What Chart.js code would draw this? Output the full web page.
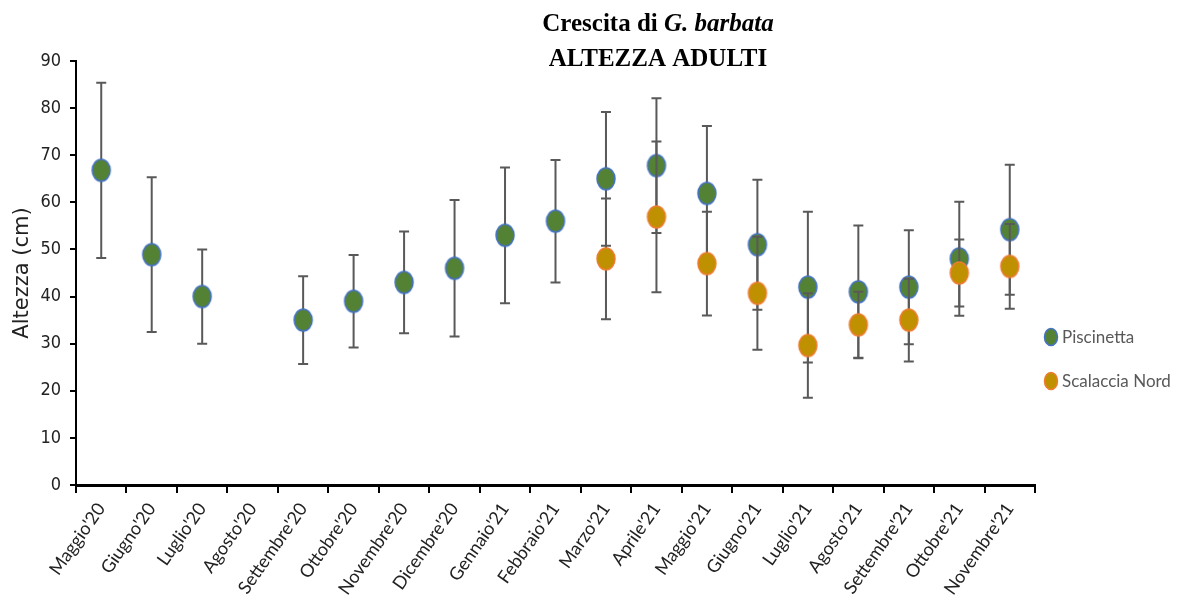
<!DOCTYPE html>
<html>
<head>
<meta charset="utf-8">
<script src="https://cdn.jsdelivr.net/npm/chart.js@4.4.1/dist/chart.umd.min.js"></script>
<style>
  html, body { margin: 0; padding: 0; background: #fff; }
  #wrap { position: relative; width: 1192px; height: 611px; }
</style>
</head>
<body>
<div id="wrap"><canvas id="chart"></canvas></div>
<script>
/* ============================================================
   DATA
============================================================ */
const months = ["Maggio'20", "Giugno'20", "Luglio'20", "Agosto'20", "Settembre'20", "Ottobre'20",
  "Novembre'20", "Dicembre'20", "Gennaio'21", "Febbraio'21", "Marzo'21", "Aprile'21",
  "Maggio'21", "Giugno'21", "Luglio'21", "Agosto'21", "Settembre'21", "Ottobre'21", "Novembre'21"];

const piscinetta    = [66.8, 48.9, 40.0, null, 35.0, 39.0, 43.0, 46.0, 53.0, 56.0, 65.0, 67.8, 61.9, 51.0, 42.0, 41.0, 42.0, 48.0, 54.2];
const piscinettaErr = [18.6, 16.4, 10.0, null, 9.3, 9.8, 10.8, 14.5, 14.4, 13.0, 14.2, 14.3, 14.3, 13.8, 16.0, 14.1, 12.1, 12.1, 13.8];

const scalaccia     = [null, null, null, null, null, null, null, null, null, null, 48.0, 56.9, 47.0, 40.7, 29.6, 34.0, 35.0, 45.0, 46.4];
const scalacciaErr  = [null, null, null, null, null, null, null, null, null, null, 12.8, 16.0, 11.0, 12.0, 11.1, 7.0, 8.8, 7.1, 9.0];

const yTicks = [0, 10, 20, 30, 40, 50, 60, 70, 80, 90];

/* ============================================================
   STYLE
============================================================ */
const GREEN = '#548235', GREEN_EDGE = '#4472C4';
const GOLD  = '#BF9000', GOLD_EDGE  = '#ED7D31';
const ERR   = '#595959';

/* ellipse marker as a little canvas */
function ellipseMarker(fill, edge, rx, ry) {
  const c = document.createElement('canvas');
  c.width = Math.ceil(rx * 2 + 4);
  c.height = Math.ceil(ry * 2 + 4);
  const g = c.getContext('2d');
  g.beginPath();
  g.ellipse(c.width / 2, c.height / 2, rx, ry, 0, 0, Math.PI * 2);
  g.fillStyle = fill;
  g.fill();
  g.lineWidth = 1.5;
  g.strokeStyle = edge;
  g.stroke();
  return c;
}

/* ============================================================
   PLUGINS
============================================================ */
const errorBars = {
  id: 'errorBars',
  beforeDatasetDraw(chart, args) {
    const ds = chart.data.datasets[args.index];
    if (!ds.errors) return;
    const y = chart.scales.y;
    const ctx = chart.ctx;
    ctx.save();
    ctx.strokeStyle = ERR;
    ctx.lineWidth = 2;
    args.meta.data.forEach((pt, i) => {
      const v = ds.data[i], e = ds.errors[i];
      if (v == null || e == null) return;
      const top = y.getPixelForValue(v + e);
      const bot = y.getPixelForValue(v - e);
      ctx.beginPath();
      ctx.moveTo(pt.x, top); ctx.lineTo(pt.x, bot);
      ctx.moveTo(pt.x - 5, top); ctx.lineTo(pt.x + 5, top);
      ctx.moveTo(pt.x - 5, bot); ctx.lineTo(pt.x + 5, bot);
      ctx.stroke();
    });
    ctx.restore();
  }
};

const decorations = {
  id: 'decorations',
  afterDraw(chart) {
    const ctx = chart.ctx;
    ctx.save();

    /* title, mixed bold / bold italic */
    ctx.fillStyle = '#000';
    ctx.textBaseline = 'alphabetic';
    const cx = 658;
    const partA = 'Crescita di ', partB = 'G. barbata';
    const fA = 'bold 25px "Liberation Serif", "Times New Roman", serif';
    const fB = 'italic bold 25px "Liberation Serif", "Times New Roman", serif';
    ctx.font = fA; const wA = ctx.measureText(partA).width;
    ctx.font = fB; const wB = ctx.measureText(partB).width;
    let x0 = cx - (wA + wB) / 2;
    ctx.textAlign = 'left';
    ctx.font = fA; ctx.fillText(partA, x0, 31);
    ctx.font = fB; ctx.fillText(partB, x0 + wA, 31);
    ctx.font = fA; ctx.textAlign = 'center';
    ctx.fillText('ALTEZZA ADULTI', cx, 66);

    /* legend */
    const legendY = [337, 381];
    ctx.textAlign = 'left';
    ctx.textBaseline = 'middle';
    ctx.font = '17px Lato, "Open Sans", sans-serif';
    chart.data.datasets.forEach((d, i) => {
      ctx.beginPath();
      ctx.ellipse(1051, legendY[i], 6.5, 8.5, 0, 0, Math.PI * 2);
      ctx.fillStyle = d.legendFill;
      ctx.fill();
      ctx.lineWidth = 1.5;
      ctx.strokeStyle = d.legendEdge;
      ctx.stroke();
      ctx.fillStyle = '#595959';
      ctx.fillText(d.label, 1062, legendY[i] + 1);
    });
    ctx.restore();
  }
};

/* ============================================================
   CHART
============================================================ */
const ctx = document.getElementById('chart').getContext('2d');

new Chart(ctx, {
  type: 'line',
  data: {
    labels: months,
    datasets: [
      {
        label: 'Piscinetta',
        data: piscinetta,
        errors: piscinettaErr,
        showLine: false,
        order: 2,
        pointStyle: ellipseMarker(GREEN, GREEN_EDGE, 9, 11),
        pointRadius: 10,
        legendFill: GREEN,
        legendEdge: GREEN_EDGE
      },
      {
        label: 'Scalaccia Nord',
        data: scalaccia,
        errors: scalacciaErr,
        showLine: false,
        order: 1,
        pointStyle: ellipseMarker(GOLD, GOLD_EDGE, 9, 11),
        pointRadius: 10,
        legendFill: GOLD,
        legendEdge: GOLD_EDGE
      }
    ]
  },
  options: {
    responsive: true,
    maintainAspectRatio: false,
    animation: false,
    layout: { padding: { top: 61, right: 157, left: 0, bottom: 0 } },
    plugins: {
      legend: { display: false },
      tooltip: { enabled: false },
      title: { display: false }
    },
    scales: {
      x: {
        type: 'category',
        offset: true,
        afterFit(s) { s.height = 126; },
        grid: {
          offset: true,
          drawOnChartArea: false,
          drawTicks: true,
          tickLength: 8,
          color: '#000',
          lineWidth: 2
        },
        border: { display: true, color: '#000', width: 3 },
        ticks: {
          autoSkip: false,
          minRotation: 55,
          maxRotation: 55,
          padding: 6,
          color: '#222',
          font: { family: 'Lato, "Open Sans", sans-serif', size: 18 }
        }
      },
      y: {
        min: 0,
        max: 90,
        afterFit(s) { s.width = 76; },
        afterBuildTicks(s) { s.ticks = yTicks.map(v => ({ value: v })); },
        grid: {
          drawOnChartArea: false,
          drawTicks: true,
          tickLength: 6,
          color: '#000',
          lineWidth: 2
        },
        border: { display: true, color: '#000', width: 2 },
        ticks: {
          padding: 9,
          color: '#222',
          font: { family: '"Liberation Sans Narrow", "DejaVu Sans Condensed", sans-serif', size: 18 }
        },
        title: {
          display: true,
          text: 'Altezza (cm)',
          color: '#222',
          padding: { top: 10, bottom: 0 },
          font: { family: '"DejaVu Sans", sans-serif', size: 21 }
        }
      }
    }
  },
  plugins: [errorBars, decorations]
});
</script>
</body>
</html>
